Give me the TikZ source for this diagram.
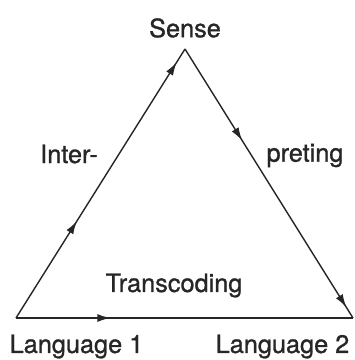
\documentclass[tikz,border=0pt]{standalone}
\usepackage{fontspec}
\setmainfont{TeX Gyre Heros}[FakeBold=1]
\usepackage{tikz}
\usetikzlibrary{arrows.meta,decorations.markings}
\definecolor{Ink}{HTML}{262626}

\tikzset{
  side/.style={draw=Ink,line width=0.8pt},
  arrowat/.style={postaction={decorate,decoration={markings,
      mark=at position #1 with {\arrow{Latex[length=2.6mm,width=1.6mm]}}}}},
  word/.style={font=\fontsize{14.4}{17}\selectfont,text=Ink,inner sep=0pt}
}

\begin{document}
\begin{tikzpicture}[x=0.5cm,y=0.5cm]
  \useasboundingbox (-0.64,-1.68) rectangle (13.52,12.72);
  % corners
  \coordinate (lang1) at (0,0);
  \coordinate (sense) at (6.76,10.76);
  \coordinate (lang2) at (13.48,0);
  % sides
  \draw[side,arrowat=0.36,arrowat=0.95] (lang1) -- (sense);
  \draw[side,arrowat=0.34,arrowat=0.96] (sense) -- (lang2);
  \draw[side,arrowat=0.28] (lang1) -- (lang2);
  % labels
  \node[word] (senselbl) at (6.76,11.6) {Sense};
  \node[word] (inter) at (2.12,6.56) {Inter-};
  \node[word] (preting) at (11.56,6.5) {preting};
  \node[word] (transc) at (6.32,1.3) {Transcoding};
  \node[word] (lang1lbl) at (2.42,-1.14) {Language 1};
  \node[word] (lang2lbl) at (10.66,-1.14) {Language 2};
\end{tikzpicture}
\end{document}
